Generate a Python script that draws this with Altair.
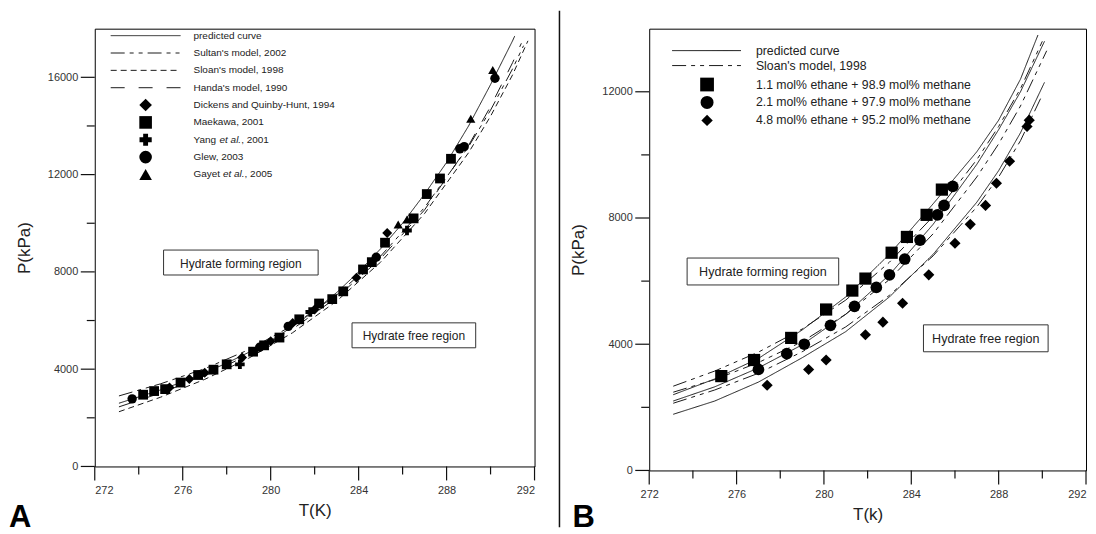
import altair as alt
import pandas as pd

FONT = "Liberation Sans"

# ---------------- Panel A : curves ----------------
A_models = ["predicted curve", "Sultan's model, 2002", "Sloan's model, 1998", "Handa's model, 1990"]
A_pred_T = [273.1, 274, 275, 276, 277, 278, 279, 280, 281, 282, 283, 284, 285, 286, 287, 288, 289, 290, 291, 291.1]
A_pred_P = [2600, 2860, 3150, 3480, 3850, 4250, 4690, 5170, 5750, 6400, 7150, 8000, 8950, 10000, 11200, 12500, 14000, 15700, 17500, 17700]
A_sultan_T = [273.1, 275, 277, 279, 281, 283, 285, 287, 289, 290, 291, 291.5]
A_sultan_P = [2900, 3400, 4020, 4800, 5800, 7050, 8650, 10650, 13150, 14650, 16350, 17300]
A_sloan_T = [273.1, 275, 277, 279, 281, 283, 285, 287, 289, 290, 291, 291.7]
A_sloan_P = [2250, 2850, 3580, 4450, 5500, 6800, 8400, 10400, 12900, 14400, 16100, 17500]
A_handa_T = [273.1, 275, 277, 279, 281, 283, 285, 287, 289, 290, 291, 291.4]
A_handa_P = [2450, 3020, 3720, 4600, 5650, 6950, 8550, 10550, 13200, 14800, 16600, 17400]

# ---------------- Panel A : experimental points ----------------
A_series = ["Dickens and Quinby-Hunt, 1994", "Maekawa, 2001", "Yang et al., 2001", "Glew, 2003", "Gayet et al., 2005"]
A_dickens_T = [275.4, 276.3, 277.0, 278.7, 280.0, 281.0, 282.0, 283.9, 285.3]
A_dickens_P = [3250, 3600, 3850, 4480, 5150, 5900, 6450, 7760, 9600]
A_maekawa_T = [274.2, 274.7, 275.2, 275.9, 276.7, 277.4, 278.0, 279.2, 279.7, 280.4, 281.3, 282.2, 282.8, 283.3, 284.2, 284.6, 285.2, 286.5, 287.1, 287.7, 288.2]
A_maekawa_P = [2950, 3100, 3180, 3450, 3760, 3980, 4200, 4720, 4980, 5300, 6050, 6700, 6880, 7200, 8100, 8400, 9200, 10200, 11200, 11840, 12650]
A_yang_T = [278.6, 281.8, 286.2]
A_yang_P = [4200, 6350, 9700]
A_glew_T = [273.7, 279.5, 280.8, 284.8, 288.6, 288.8, 290.2]
A_glew_P = [2780, 4900, 5760, 8600, 13060, 13150, 15960]
A_gayet_T = [285.8, 286.2, 289.1, 290.1]
A_gayet_P = [9950, 10150, 14300, 16300]

# ---------------- Panel B : curves ----------------
B_models = ["pred 1.1", "pred 2.1", "pred 4.8", "sloan 1.1", "sloan 2.1", "sloan 4.8"]
B_pred1_T = [273.1, 275, 277, 279, 281, 283, 285, 287, 288, 289, 289.8]
B_pred1_P = [2400, 2900, 3550, 4450, 5500, 6850, 8450, 10100, 11100, 12400, 13800]
B_pred2_T = [273.1, 275, 277, 279, 281, 283, 285, 287, 288, 289, 290.1]
B_pred2_P = [2200, 2650, 3250, 3980, 4950, 6200, 7800, 9700, 10800, 12000, 13600]
B_pred3_T = [273.1, 275, 277, 279, 281, 283, 285, 287, 288, 289, 290.1]
B_pred3_P = [1780, 2200, 2800, 3570, 4400, 5500, 6850, 8500, 9500, 10700, 12300]
B_sloan1_T = [273.1, 275, 277, 279, 281, 283, 285, 287, 288, 289, 290.0]
B_sloan1_P = [2670, 3150, 3750, 4480, 5400, 6600, 8050, 9850, 10900, 12100, 13600]
B_sloan2_T = [273.1, 275, 277, 279, 281, 283, 285, 287, 288, 289, 290.2]
B_sloan2_P = [2480, 2880, 3420, 4080, 4950, 6050, 7500, 9300, 10350, 11550, 13300]
B_sloan3_T = [273.1, 275, 277, 279, 281, 283, 285, 287, 288, 289, 290.0]
B_sloan3_P = [2130, 2550, 3080, 3760, 4550, 5550, 6800, 8350, 9300, 10450, 11900]

# ---------------- Panel B : experimental points ----------------
B_series = ["1.1 mol% ethane + 98.9 mol% methane", "2.1 mol% ethane + 97.9 mol% methane", "4.8 mol% ethane + 95.2 mol% methane"]
B_sq_T = [275.3, 276.8, 278.5, 280.1, 281.3, 281.9, 283.1, 283.8, 284.7, 285.4]
B_sq_P = [2990, 3500, 4200, 5100, 5700, 6080, 6900, 7400, 8100, 8900]
B_ci_T = [277.0, 278.3, 279.1, 280.3, 281.4, 282.4, 283.0, 283.7, 284.4, 285.2, 285.5, 285.9]
B_ci_P = [3200, 3700, 4000, 4600, 5200, 5800, 6200, 6700, 7300, 8100, 8400, 9000]
B_di_T = [277.4, 279.3, 280.1, 281.9, 282.7, 283.6, 284.8, 286.0, 286.7, 287.4, 287.9, 288.5, 289.3, 289.4]
B_di_P = [2700, 3200, 3500, 4300, 4700, 5300, 6200, 7200, 7800, 8400, 9100, 9800, 10900, 11100]

# ---------------- axis ticks ----------------
T_major = [272, 276, 280, 284, 288, 292]
T_minor = [274, 278, 282, 286, 290]
PA_major = [0, 4000, 8000, 12000, 16000]
PA_minor = [2000, 6000, 10000, 14000]
PB_major = [0, 4000, 8000, 12000]
PB_minor = [2000, 6000, 10000]

# ---------------- text ----------------
A_legend_lines = ["predicted curve", "Sultan's model, 2002", "Sloan's model, 1998", "Handa's model, 1990"]
A_legend_plain = ["Dickens and Quinby-Hunt, 1994", "Maekawa, 2001", "", "Glew, 2003", ""]
B_legend_lines = ["predicted curve", "Sloan's model, 1998"]
region_forming = "Hydrate forming region"
region_free = "Hydrate free region"


def frame(Ts, Ps, name):
    return pd.DataFrame({"T": Ts, "P": Ps, "series": name})


dfA_lines = pd.concat([frame(A_pred_T, A_pred_P, A_models[0]), frame(A_sultan_T, A_sultan_P, A_models[1]),
                       frame(A_sloan_T, A_sloan_P, A_models[2]), frame(A_handa_T, A_handa_P, A_models[3])])
dfA_pts = pd.concat([frame(A_dickens_T, A_dickens_P, A_series[0]), frame(A_maekawa_T, A_maekawa_P, A_series[1]),
                     frame(A_yang_T, A_yang_P, A_series[2]), frame(A_glew_T, A_glew_P, A_series[3]),
                     frame(A_gayet_T, A_gayet_P, A_series[4])])
dfB_lines = pd.concat([frame(B_pred1_T, B_pred1_P, B_models[0]), frame(B_pred2_T, B_pred2_P, B_models[1]),
                       frame(B_pred3_T, B_pred3_P, B_models[2]), frame(B_sloan1_T, B_sloan1_P, B_models[3]),
                       frame(B_sloan2_T, B_sloan2_P, B_models[4]), frame(B_sloan3_T, B_sloan3_P, B_models[5])])
dfB_pts = pd.concat([frame(B_sq_T, B_sq_P, B_series[0]), frame(B_ci_T, B_ci_P, B_series[1]),
                     frame(B_di_T, B_di_P, B_series[2])])

SOLID = [1, 0]
SULTAN = [14, 5, 4, 5, 4, 5]
SLOAN = [6, 4]
HANDA = [14, 14]
A_dash = [SOLID, SULTAN, SLOAN, HANDA]
B_dash = [SOLID, SOLID, SOLID, SULTAN, SULTAN, SULTAN]
A_shapes = ["diamond", "square", "cross", "circle", "triangle-up"]
B_shapes = ["square", "circle", "diamond"]
A_sizes = [100, 85, 95, 95, 85]
B_sizes = [150, 125, 80]

one = pd.DataFrame({"k": [0]})
TICK = "#111111"


def x_axis(title, flush_last):
    kw = {}
    if flush_last:
        kw["labelAlign"] = {"condition": {"test": "datum.value >= 292", "value": "right"}, "value": "center"}
    return alt.Axis(values=T_major, format="d", title=title, ticks=False,
                    domain=False, labelPadding=18, titlePadding=7, grid=True, gridOpacity=0, **kw)


def y_axis(vals):
    return alt.Axis(values=vals, format="d", title="P(kPa)", ticks=False,
                    domain=False, labelPadding=17, titlePadding=14, grid=True, gridOpacity=0)


def tick_layers(w, h, pmax, pmaj, pmin):
    # tick marks computed from the tick values (pixel mapping of the panel's own domain)
    tmaj = alt.Chart(pd.DataFrame({"v": T_major})).transform_calculate(
        px=f"(datum.v - 272) / 20 * {w}").mark_rule(color=TICK, strokeWidth=1.2).encode(
        x=alt.X("px:Q", scale=None), y=alt.value(h), y2=alt.value(h + 14))
    tmin = alt.Chart(pd.DataFrame({"v": T_minor})).transform_calculate(
        px=f"(datum.v - 272) / 20 * {w}").mark_rule(color=TICK, strokeWidth=1.2).encode(
        x=alt.X("px:Q", scale=None), y=alt.value(h), y2=alt.value(h + 8))
    pmj = alt.Chart(pd.DataFrame({"v": pmaj})).transform_calculate(
        py=f"{h} - datum.v / {pmax} * {h}").mark_rule(color=TICK, strokeWidth=1.2).encode(
        y=alt.Y("py:Q", scale=None), x=alt.value(-14), x2=alt.value(0))
    pmn = alt.Chart(pd.DataFrame({"v": pmin})).transform_calculate(
        py=f"{h} - datum.v / {pmax} * {h}").mark_rule(color=TICK, strokeWidth=1.2).encode(
        y=alt.Y("py:Q", scale=None), x=alt.value(-8), x2=alt.value(0))
    return [tmaj, tmin, pmj, pmn]


def box(x1, x2, y1, y2, label, fs):
    r = alt.Chart(one).mark_rect(fill="white", stroke="#333", strokeWidth=1).encode(
        x=alt.value(x1), x2=alt.value(x2), y=alt.value(y1), y2=alt.value(y2))
    t = alt.Chart(one).mark_text(font=FONT, fontSize=fs, color="#222", align="center", baseline="middle").encode(
        x=alt.value((x1 + x2) / 2), y=alt.value((y1 + y2) / 2 + 1), text=alt.value(label))
    return [r, t]


def ltext(x, y, s, fs, italic=False):
    return alt.Chart(one).mark_text(font=FONT, fontSize=fs, color="#222", align="left", baseline="middle",
                                    fontStyle="italic" if italic else "normal").encode(
        x=alt.value(x), y=alt.value(y), text=alt.value(s))


# ================= Panel A =================
WA, HA = 441, 439
sxA = alt.Scale(domain=[272, 292], nice=False)
syA = alt.Scale(domain=[0, 18000], nice=False)
xA = alt.X("T:Q", scale=sxA, axis=x_axis("T(K)", False))
yA = alt.Y("P:Q", scale=syA, axis=y_axis(PA_major))

linesA = alt.Chart(dfA_lines).mark_line(color="#1a1a1a", strokeWidth=1).encode(
    x=xA, y=yA, detail="series:N",
    strokeDash=alt.StrokeDash("series:N", scale=alt.Scale(domain=A_models, range=A_dash), legend=None))
ptsA = alt.Chart(dfA_pts).mark_point(filled=True, color="black", opacity=1).encode(
    x=xA, y=yA,
    shape=alt.Shape("series:N", scale=alt.Scale(domain=A_series, range=A_shapes), legend=None),
    size=alt.Size("series:N", scale=alt.Scale(domain=A_series, range=A_sizes), legend=None))
ticksA = tick_layers(WA, HA, 18000, PA_major, PA_minor)

FA = 10
legA = []
rowA = [7 + 17.4 * i for i in range(9)]
for i, name in enumerate(A_legend_lines):
    legA.append(alt.Chart(one).mark_rule(color="#1a1a1a", strokeWidth=1, strokeDash=A_dash[i]).encode(
        x=alt.value(16), x2=alt.value(86), y=alt.value(rowA[i])))
    legA.append(ltext(99, rowA[i], name, FA))
for j, name in enumerate(A_series):
    yy = rowA[4 + j]
    legA.append(alt.Chart(one).mark_point(filled=True, color="black", opacity=1, shape=A_shapes[j],
                                          size=160 if A_shapes[j] != "cross" else 150).encode(
        x=alt.value(51), y=alt.value(yy)))
    if A_legend_plain[j]:
        legA.append(ltext(99, yy, A_legend_plain[j], FA))
legA.append(ltext(99, rowA[6], "Yang ", FA))
legA.append(ltext(125.1, rowA[6], "et al.", FA, True))
legA.append(ltext(146.8, rowA[6], ", 2001", FA))
legA.append(ltext(99, rowA[8], "Gayet ", FA))
legA.append(ltext(128.5, rowA[8], "et al.", FA, True))
legA.append(ltext(150.2, rowA[8], ", 2005", FA))

labelA = alt.Chart(one).mark_text(font=FONT, fontSize=31, fontWeight="bold", color="black",
                                  align="left", baseline="alphabetic").encode(
    x=alt.value(-86), y=alt.value(500), text=alt.value("A"))
divider = alt.Chart(one).mark_rule(color="#111", strokeWidth=1.5).encode(
    x=alt.value(466), y=alt.value(-18), y2=alt.value(500))

panelA = alt.layer(linesA, ptsA, *legA,
                   *box(69, 224, 222, 247, region_forming, 12),
                   *box(258, 382, 295, 320, region_free, 12),
                   labelA, divider, *ticksA).properties(width=WA, height=HA)

# ================= Panel B =================
WB, HB = 438, 443
sxB = alt.Scale(domain=[272, 292], nice=False)
syB = alt.Scale(domain=[0, 14000], nice=False)
xB = alt.X("T:Q", scale=sxB, axis=x_axis("T(k)", True))
yB = alt.Y("P:Q", scale=syB, axis=y_axis(PB_major))

linesB = alt.Chart(dfB_lines).mark_line(color="#1a1a1a", strokeWidth=1).encode(
    x=xB, y=yB, detail="series:N",
    strokeDash=alt.StrokeDash("series:N", scale=alt.Scale(domain=B_models, range=B_dash), legend=None))
ptsB = alt.Chart(dfB_pts).mark_point(filled=True, color="black", opacity=1).encode(
    x=xB, y=yB,
    shape=alt.Shape("series:N", scale=alt.Scale(domain=B_series, range=B_shapes), legend=None),
    size=alt.Size("series:N", scale=alt.Scale(domain=B_series, range=B_sizes), legend=None))
ticksB = tick_layers(WB, HB, 14000, PB_major, PB_minor)

FB = 12.3
legB = []
rowB = [22, 37, 56, 74, 92]
for i, name in enumerate(B_legend_lines):
    legB.append(alt.Chart(one).mark_rule(color="#1a1a1a", strokeWidth=1, strokeDash=[SOLID, SULTAN][i]).encode(
        x=alt.value(23), x2=alt.value(92), y=alt.value(rowB[i])))
    legB.append(ltext(107, rowB[i], name, FB))
for j, name in enumerate(B_series):
    legB.append(alt.Chart(one).mark_point(filled=True, color="black", opacity=1, shape=B_shapes[j],
                                          size=[190, 170, 130][j]).encode(
        x=alt.value(58), y=alt.value(rowB[2 + j])))
    legB.append(ltext(107, rowB[2 + j], name, FB))

labelB = alt.Chart(one).mark_text(font=FONT, fontSize=31, fontWeight="bold", color="black",
                                  align="left", baseline="alphabetic").encode(
    x=alt.value(-77), y=alt.value(500), text=alt.value("B"))

panelB = alt.layer(linesB, ptsB, *legB,
                   *box(38, 190, 230, 257, region_forming, 12.6),
                   *box(275, 400, 297, 324, region_free, 12.6),
                   labelB, *ticksB).properties(width=WB, height=HB)

chart = alt.hconcat(panelA, panelB, spacing=115, bounds="flush").resolve_scale(
    shape="independent", size="independent", strokeDash="independent"
).properties(padding=0).configure_view(
    stroke="black", strokeWidth=1
).configure_axis(
    labelFont=FONT, titleFont=FONT, labelFontSize=11, titleFontSize=17, titleFontWeight="normal",
    labelColor="#333", titleColor="#222"
)

chart.save("out.html", embed_options={"renderer": "svg", "actions": False})
